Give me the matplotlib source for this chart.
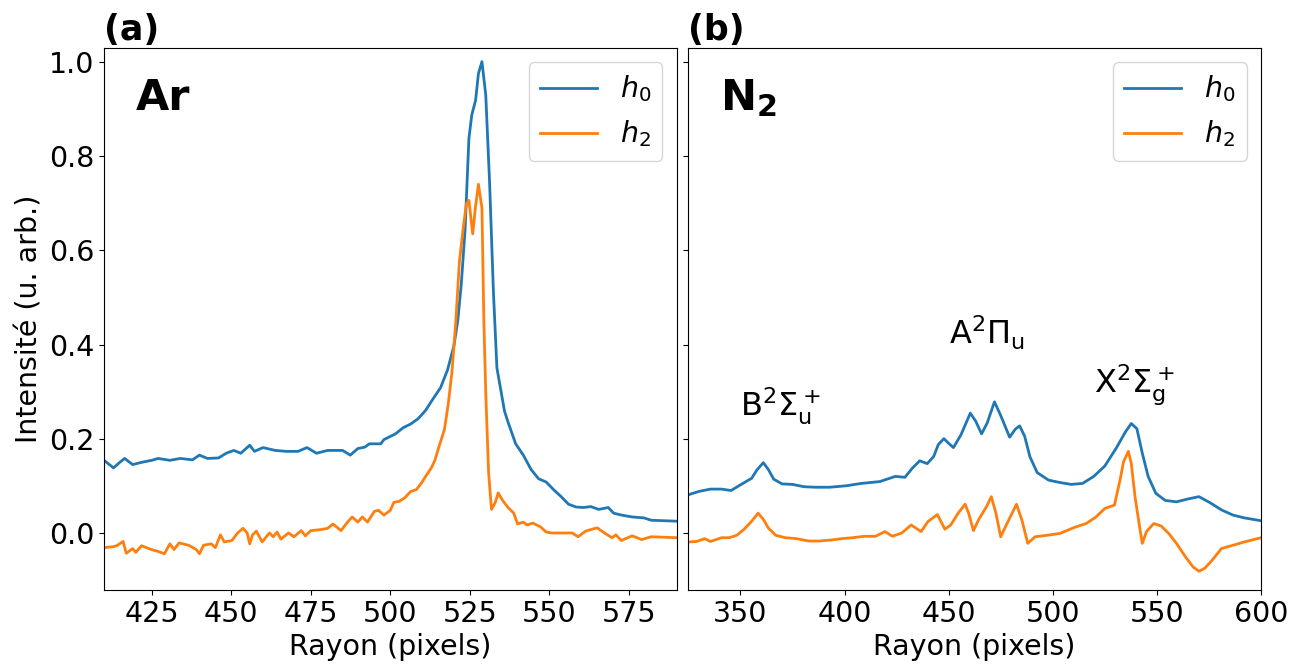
import numpy as np
import matplotlib
matplotlib.use('Agg')
import matplotlib.pyplot as plt
from matplotlib.ticker import MultipleLocator

# Ar : rayon (pixels) et intensité des harmoniques h0 et h2
ar_x_h0 = [410, 413, 415, 416.5, 419, 422, 425, 427, 430.7, 434, 437.8, 440, 442.5, 446,
           448.4, 450.8, 453, 455.8, 457.3, 460, 463.8, 467.3, 471, 473.8, 476.8, 480.3,
           485, 487.4, 489.8, 492, 493.4, 497, 498, 501.6, 504, 506.4, 508.7, 511, 513.5,
           515.8, 518, 520, 521.2, 522.3, 523.5, 524.7, 525.6, 526.8, 527.7, 528.8, 530,
           531.2, 532.4, 533.5, 534.7, 535.9, 537, 539.4, 541.8, 544.2, 546.6, 549, 551.3,
           553.7, 556, 558.4, 560.8, 563, 565.5, 568.5, 570.2, 572.6, 576, 579.7, 582, 590]
ar_h0 = [0.155, 0.139, 0.151, 0.159, 0.146, 0.151, 0.155, 0.159, 0.155, 0.159, 0.156, 0.166,
         0.159, 0.160, 0.170, 0.176, 0.170, 0.187, 0.174, 0.182, 0.176, 0.174, 0.174, 0.182,
         0.170, 0.176, 0.176, 0.166, 0.180, 0.183, 0.190, 0.190, 0.199, 0.211, 0.224, 0.232,
         0.243, 0.260, 0.286, 0.309, 0.347, 0.398, 0.451, 0.528, 0.644, 0.837, 0.887, 0.918,
         0.975, 1.000, 0.929, 0.744, 0.513, 0.351, 0.305, 0.259, 0.236, 0.190, 0.166, 0.136,
         0.116, 0.109, 0.093, 0.078, 0.062, 0.056, 0.055, 0.057, 0.051, 0.055, 0.043, 0.039,
         0.035, 0.033, 0.028, 0.026]

ar_x_h2 = [410, 413, 414, 416, 417, 419, 420, 421.8, 424.8, 427, 429, 430.7, 432, 433.6,
           436.6, 439, 440, 441.3, 443.7, 445, 446.6, 447.8, 450.2, 452, 453.7, 455, 455.8,
           456.7, 457.9, 459.7, 462, 463.2, 464.4, 465.6, 468, 469.7, 472, 473.3, 475, 478,
           480.3, 482, 484.5, 486.3, 488, 489.8, 491.2, 492.8, 495, 496.3, 498, 500, 501.1,
           502.8, 504.6, 506.4, 508.2, 510, 511, 512.9, 514, 515.2, 517, 518.2, 519.4, 520.6,
           521.7, 523, 523.9, 524.7, 525.9, 526.8, 527.7, 528.8, 529.4, 530, 530.9, 531.8,
           533, 533.9, 535.3, 537, 538.8, 540, 541.8, 543, 544.8, 547.2, 549, 550.7, 553.7,
           557.2, 559, 561.4, 565, 567.3, 569.7, 570.9, 572.6, 576, 579, 582, 590]
ar_h2 = [-0.030, -0.028, -0.026, -0.017, -0.042, -0.032, -0.040, -0.026, -0.034, -0.038,
         -0.043, -0.022, -0.034, -0.020, -0.025, -0.034, -0.043, -0.025, -0.022, -0.030,
         -0.003, -0.018, -0.015, 0.001, 0.011, 0.001, -0.022, -0.003, 0.005, -0.018, 0.001,
         -0.007, 0.003, -0.012, 0.001, -0.007, 0.006, -0.005, 0.006, 0.008, 0.011, 0.020,
         0.006, 0.022, 0.035, 0.024, 0.035, 0.024, 0.047, 0.049, 0.039, 0.049, 0.066, 0.068,
         0.076, 0.089, 0.093, 0.109, 0.120, 0.139, 0.155, 0.182, 0.220, 0.274, 0.344, 0.451,
         0.575, 0.652, 0.698, 0.706, 0.635, 0.694, 0.740, 0.690, 0.451, 0.297, 0.128, 0.051,
         0.066, 0.086, 0.070, 0.055, 0.043, 0.020, 0.024, 0.018, 0.022, 0.014, 0.003, 0.001,
         0.001, 0.001, -0.007, 0.005, 0.012, 0.001, -0.009, -0.003, -0.015, -0.005, -0.013,
         -0.007, -0.009]

# N2
n2_x_h0 = [325, 330, 335.6, 341, 345.5, 350, 355.4, 358, 361, 363.5, 366, 370, 375, 380.6,
           386, 393, 400.7, 408, 417, 424.4, 429, 432.5, 436.1, 439.7, 442.8, 445, 447.7,
           450, 452.3, 455.9, 460.4, 463, 465.8, 468.5, 472, 474.8, 479.3, 482, 484.1, 486.5,
           489, 492.5, 498, 503.4, 508.8, 514.3, 519.7, 525, 530.5, 535, 537.7, 540.4, 543,
           545.8, 549.5, 554, 559.4, 564.8, 570.2, 575.6, 581, 586.5, 592, 600]
n2_h0 = [0.082, 0.089, 0.094, 0.094, 0.091, 0.103, 0.117, 0.135, 0.150, 0.135, 0.115, 0.105,
         0.104, 0.099, 0.098, 0.098, 0.101, 0.106, 0.110, 0.121, 0.119, 0.138, 0.154, 0.148,
         0.163, 0.188, 0.201, 0.191, 0.182, 0.209, 0.255, 0.238, 0.211, 0.234, 0.279, 0.252,
         0.204, 0.221, 0.228, 0.206, 0.163, 0.129, 0.113, 0.108, 0.104, 0.106, 0.121, 0.143,
         0.181, 0.216, 0.233, 0.222, 0.170, 0.121, 0.085, 0.070, 0.067, 0.073, 0.078, 0.065,
         0.050, 0.039, 0.033, 0.027]

n2_x_h2 = [325, 329, 332.8, 335.6, 341, 344.6, 348.2, 351.8, 355.4, 358.5, 361, 363.5, 367,
           371.5, 377, 382.5, 387.9, 393.3, 398.7, 404, 409.5, 414.9, 419.4, 423, 427.5, 432,
           436.8, 440, 444.6, 448.2, 451, 454.6, 457.9, 459.6, 461.9, 464.5, 468.2, 470.5,
           472.7, 475, 478, 482.6, 485.2, 488, 491.5, 497, 503.4, 510.5, 516, 520.5, 525,
           529.6, 532.3, 534, 536.3, 537.7, 539.5, 541.7, 543, 545, 548.5, 552, 555.7, 559.4,
           563.8, 567.4, 570.2, 572.9, 576.5, 581, 586.5, 592, 600]
n2_h2 = [-0.018, -0.017, -0.011, -0.017, -0.009, -0.009, -0.004, 0.009, 0.026, 0.043, 0.030,
         0.011, -0.004, -0.009, -0.011, -0.016, -0.016, -0.014, -0.011, -0.009, -0.006,
         -0.006, 0.004, -0.006, 0.001, 0.018, 0.004, 0.025, 0.040, 0.009, 0.018, 0.043,
         0.062, 0.043, 0.006, 0.030, 0.057, 0.078, 0.043, -0.007, 0.021, 0.062, 0.028,
         -0.021, -0.007, -0.004, 0.000, 0.013, 0.021, 0.034, 0.053, 0.060, 0.113, 0.152,
         0.174, 0.149, 0.078, 0.014, -0.021, 0.004, 0.021, 0.016, 0.000, -0.021, -0.050,
         -0.071, -0.080, -0.074, -0.057, -0.032, -0.025, -0.018, -0.009]

plt.rcParams['font.size'] = 20.5

fig = plt.figure(figsize=(13, 6.66), dpi=100)
ax1 = fig.add_axes([0.080, 0.114, 0.4405, 0.814])
ax2 = fig.add_axes([0.5295, 0.114, 0.4405, 0.814], sharey=ax1)

# (a) Argon
ax1.plot(ar_x_h0, ar_h0, lw=2, label='$h_0$')
ax1.plot(ar_x_h2, ar_h2, lw=2, label='$h_2$')
ax1.set_xlim(410, 590)
ax1.set_ylim(-0.12, 1.029)
ax1.xaxis.set_major_locator(MultipleLocator(25))
ax1.set_xlabel('Rayon (pixels)')
ax1.set_ylabel('Intensité (u. arb.)')
ax1.set_title('(a)', loc='left', fontweight='bold', fontsize=25)
ax1.text(0.056, 0.885, 'Ar', transform=ax1.transAxes, fontsize=31, fontweight='bold')
ax1.legend(loc='upper right')

# (b) Azote
ax2.plot(n2_x_h0, n2_h0, lw=2, label='$h_0$')
ax2.plot(n2_x_h2, n2_h2, lw=2, label='$h_2$')
ax2.set_xlim(325, 600)
ax2.set_xlabel('Rayon (pixels)')
ax2.tick_params(labelleft=False)
ax2.set_title('(b)', loc='left', fontweight='bold', fontsize=25)
ax2.text(0.055, 0.885, r'$\mathbf{N_2}$', transform=ax2.transAxes, fontsize=31)
ax2.text(350, 0.25, r'$\mathrm{B^2\Sigma_u^+}$', fontsize=23)
ax2.text(450, 0.40, r'$\mathrm{A^2\Pi_u}$', fontsize=23)
ax2.text(520, 0.30, r'$\mathrm{X^2\Sigma_g^+}$', fontsize=23)
ax2.legend(loc='upper right')

fig.savefig('out.png', dpi=100)
